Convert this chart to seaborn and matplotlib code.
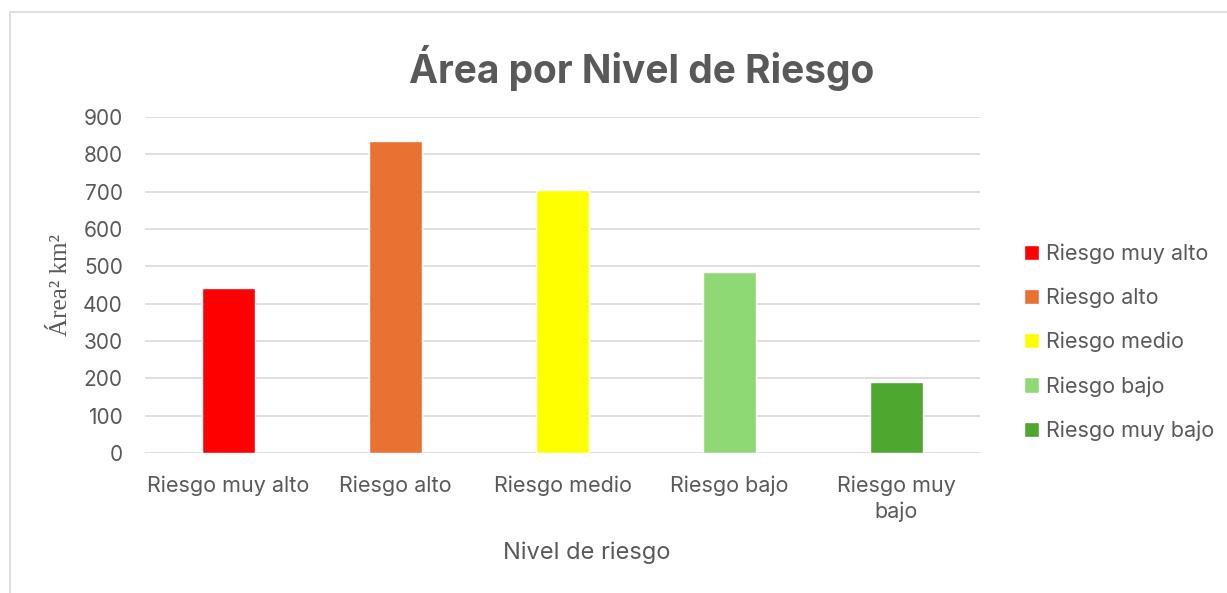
import matplotlib
matplotlib.use("Agg")
import matplotlib.pyplot as plt
import seaborn as sns
import pandas as pd
from matplotlib.patches import Rectangle

categories = ["Riesgo muy alto", "Riesgo alto", "Riesgo medio", "Riesgo bajo", "Riesgo muy bajo"]
tick_labels = ["Riesgo muy alto", "Riesgo alto", "Riesgo medio", "Riesgo bajo", "Riesgo muy\nbajo"]
values = [441, 836, 704, 486, 190]
colors = ["#FF0000", "#E97132", "#FFFF00", "#8ED973", "#4EA72E"]
y_ticks = [0, 100, 200, 300, 400, 500, 600, 700, 800, 900]

sns.set_theme(style="white")
plt.rcParams["font.family"] = ["Inter", "DejaVu Sans"]
gray = "#595959"

df = pd.DataFrame({"Nivel": categories, "Area": values})

fig = plt.figure(figsize=(12.27, 5.93), dpi=100)
ax = fig.add_axes([145 / 1227, 1 - 453 / 593, (980 - 145) / 1227, (453 - 117) / 593])

sns.barplot(data=df, x="Nivel", y="Area", hue="Nivel", palette=colors,
            width=0.32, saturation=1, legend=True, ax=ax, zorder=3)

ax.set_ylim(0, 900)
ax.set_yticks(y_ticks)
ax.set_xticks(range(len(categories)))
ax.set_xticklabels(tick_labels, fontsize=15.5, color=gray, linespacing=1.35)
ax.tick_params(axis="y", labelsize=15, labelcolor=gray, length=0, pad=16)
ax.tick_params(axis="x", length=0, pad=16)
ax.grid(axis="y", color="#d9d9d9", linewidth=1.2, zorder=0)
ax.set_axisbelow(True)
for s in ["left", "right", "top", "bottom"]:
    ax.spines[s].set_visible(False)

ax.set_xlabel("Nivel de riesgo", fontsize=17, color=gray)
ax.xaxis.set_label_coords((587 - 145) / 835, -(553 - 453) / 336, transform=ax.transAxes)
ax.xaxis.label.set_va("center")
ax.set_ylabel("Área² km²", fontsize=18, color=gray, family=["Liberation Serif"], labelpad=8)

fig.text(642 / 1227, 1 - 68 / 593, "Área por Nivel de Riesgo", ha="center", va="center",
         fontsize=28, fontweight="bold", color=gray)

leg = ax.legend(loc="center left", bbox_to_anchor=(1.03, 0.33), frameon=False,
                fontsize=15.5, labelcolor=gray, handlelength=0.7, handleheight=0.7,
                handletextpad=0.3, labelspacing=1.1)

fig.patches.append(Rectangle((10 / 1227, -0.1), 1.2, 1 - 12 / 593 + 0.1,
                             transform=fig.transFigure, fill=False,
                             edgecolor="#d9d9d9", linewidth=1.2, zorder=0))

fig.savefig("out.png", dpi=100)
